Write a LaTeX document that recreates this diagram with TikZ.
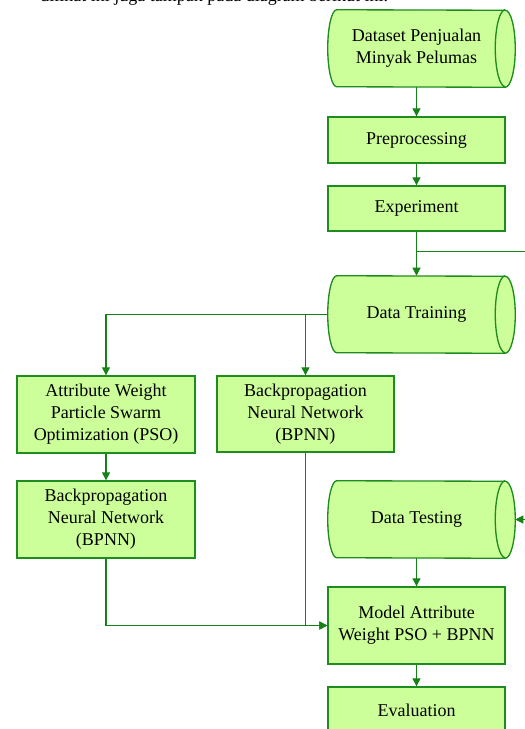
\documentclass[tikz,border=0pt]{standalone}
\usepackage{fontspec}
\setmainfont{Liberation Serif}
\usetikzlibrary{arrows.meta,calc}

\definecolor{boxfill}{RGB}{204,255,153}
\definecolor{boxline}{RGB}{30,140,30}
\definecolor{flow}{RGB}{20,130,20}

% left bulge, right ellipse and half height of the storage symbols
\newcommand{\cylL}{6.75pt}
\newcommand{\cylR}{7.5pt}
\newcommand{\cylH}{28.875pt}
% storage symbol drawn around a rectangular node
\newcommand{\storeshape}[1]{%
  \path[cylpath] ($(#1.north west)+(9,0)$)
      arc[start angle=90,end angle=270,x radius=\cylL,y radius=\cylH]
      -- (#1.south east)
      arc[start angle=-90,end angle=90,x radius=\cylR,y radius=\cylH]
      -- cycle;
  \draw[cylpath,fill=none] (#1.north east)
      arc[start angle=90,end angle=270,x radius=\cylR,y radius=\cylH];
}

\begin{document}
\begin{tikzpicture}[x=0.75pt,y=-0.75pt,
  every node/.style={font=\fontsize{13.5}{16.5}\selectfont,text=black},
  proc/.style={rectangle,draw=boxline,fill=boxfill,line width=1pt,
    align=center,inner sep=0pt},
  store/.style={rectangle,inner sep=0pt,align=center,
    minimum width=132.75pt,minimum height=57.75pt},
  cylpath/.style={draw=boxline,fill=boxfill,line width=1pt},
  flowline/.style={draw=flow,line width=0.8pt,
    -{Triangle[length=6pt,width=6pt]}},
  plainline/.style={draw=flow,line width=0.8pt}]

\useasboundingbox (0,0) rectangle (525,729);
\clip (0,0) rectangle (525,729);

% sentence of the running text above the chart
\node[anchor=base west,inner sep=0pt] (caption) at (40,1)
  {dilihat ini juga tampak pada diagram berikut ini.};

% right column
\node[store] (data) at (416.5,48.5) {};
\storeshape{data}
\node[align=center] (datatxt) at (data.center) {Dataset Penjualan\\Minyak Pelumas};

\node[proc,minimum width=132.75pt,minimum height=34.5pt] (pre) at (416.5,140) {Preprocessing};
\node[proc,minimum width=132.75pt,minimum height=33.75pt] (exp) at (416.5,208.5) {Experiment};

\node[store] (train) at (416.5,314.5) {};
\storeshape{train}
\node (traintxt) at (train.center) {Data Training};

\node[store] (test) at (416.5,519.5) {};
\storeshape{test}
\node (testtxt) at (test.center) {Data Testing};

\node[proc,minimum width=132.75pt,minimum height=57.75pt] (model) at (416.5,625.5)
  {Model Attribute\\Weight PSO + BPNN};
\node[proc,minimum width=132.75pt,minimum height=34.5pt] (eval) at (416.5,710) {Evaluation};

% left and middle columns
\node[proc,minimum width=133.5pt,minimum height=57.75pt] (aw) at (106,414.5)
  {Attribute Weight\\Particle Swarm\\Optimization (PSO)};
\node[proc,minimum width=133.5pt,minimum height=57.75pt] (bp1) at (106,519.5)
  {Backpropagation\\Neural Network\\(BPNN)};
\node[proc,minimum width=132.75pt,minimum height=57pt] (bp2) at (305.5,414)
  {Backpropagation\\Neural Network\\(BPNN)};

% connectors
\draw[flowline] (pre.north |- data.south) -- (pre.north);
\draw[flowline] (pre.south) -- (exp.north);
\draw[flowline] (exp.south) -- (exp.south |- train.north);
\draw[flowline] ($(exp.south)+(0,20)$) -| ($(test.east)+(30,0)$)
  -- ($(test.east)+(10,0)$);

\draw[flowline] (train.west) -| (aw.north);
\draw[flowline] (train.west) -| (bp2.north);
\draw[flowline] (aw.south) -- (bp1.north);
\draw[flowline] (bp1.south) |- (model.west);
\draw[flowline] (bp2.south) |- (model.west);

\draw[flowline] (model.north |- test.south) -- (model.north);
\draw[flowline] (model.south) -- (eval.north);

\end{tikzpicture}
\end{document}
